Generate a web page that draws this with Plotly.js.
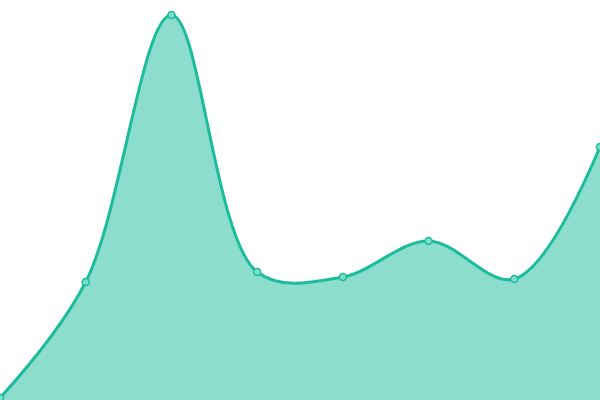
<!DOCTYPE html>
<html>
<head>
<meta charset="utf-8">
<script src="https://cdn.plot.ly/plotly-3.0.1.min.js"></script>
<style>
  html, body { margin: 0; padding: 0; background: #fff; }
  #chart { width: 600px; height: 400px; }
</style>
</head>
<body>
<div id="chart"></div>
<script>
let x_values = [0, 1, 2, 3, 4, 5, 6, 7];
let y_values = [2, 118, 385, 128, 123, 159, 121, 253];

let area = {
    x: x_values,
    y: y_values,
    mode: 'lines+markers',
    fill: 'tozeroy',
    fillcolor: 'rgba(26, 188, 156, 0.5)',
    line: {shape: 'spline', smoothing: 1, color: '#1abc9c', width: 3},
    marker: {size: 7, color: '#7fdcc9', line: {color: '#1abc9c', width: 1.5}},
    hoverinfo: 'none'
};

let layout = {
    width: 600,
    height: 400,
    margin: {l: 0, r: 0, t: 0, b: 0},
    paper_bgcolor: '#fff',
    plot_bgcolor: '#fff',
    showlegend: false,
    xaxis: {range: [0, 7], visible: false, fixedrange: true},
    yaxis: {range: [0, 400], visible: false, fixedrange: true}
};

Plotly.newPlot('chart', [area], layout, {displayModeBar: false, staticPlot: true});
</script>
</body>
</html>
